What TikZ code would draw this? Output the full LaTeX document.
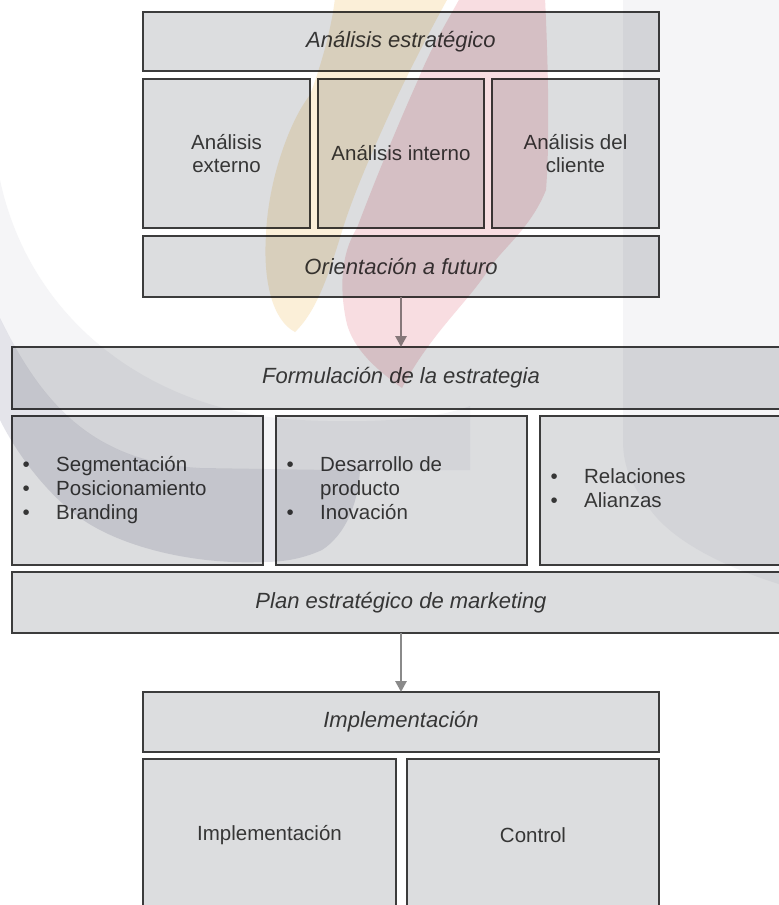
\documentclass[tikz,border=0pt]{standalone}
\usepackage{fontspec}
\setmainfont{Liberation Sans}
\usetikzlibrary{arrows.meta}

\definecolor{boxfill}{HTML}{DCDDDF}
\definecolor{boxline}{HTML}{3C3C3C}
\definecolor{ink}{HTML}{363636}
\definecolor{arrowgray}{HTML}{8A8A8A}
\definecolor{wmred}{HTML}{F8DDE1}
\definecolor{wmyellow}{HTML}{FBEFD8}
\definecolor{wmgray}{HTML}{E4E4EA}
\definecolor{wmgraysoft}{HTML}{F5F5F7}

\begin{document}
\begin{tikzpicture}[x=1pt,y=-1pt,
  panel/.style={draw=boxline, line width=1.5pt, fill=boxfill, inner sep=0pt, outer sep=0pt},
  title/.style={font=\fontsize{22}{26}\selectfont\itshape, text=ink},
  body/.style={font=\fontsize{20.5}{23.5}\selectfont, text=ink, align=center},
  listtext/.style={font=\fontsize{20.5}{24}\selectfont, text=ink, inner sep=0pt, anchor=west},
  flow/.style={draw=arrowgray, line width=2.8pt, -{Triangle[length=11pt,width=11pt]}}
]
\useasboundingbox (0,0) rectangle (779,905);
\clip (0,0) rectangle (779,905);
\fill[white] (0,0) rectangle (779,905);

% --- strategic analysis block ---
\node[panel, minimum width=516pt, minimum height=59pt, title] (strat) at (401,41.5) {Análisis estratégico};
\node[panel, minimum width=167pt, minimum height=149pt, body] (ext) at (226.5,153.5) {Análisis\\externo};
\node[panel, minimum width=166pt, minimum height=149pt, body] (int) at (401,153.5) {Análisis interno};
\node[panel, minimum width=167pt, minimum height=149pt, body] (cli) at (575.5,153.5) {Análisis del\\cliente};
\node[panel, minimum width=516pt, minimum height=61pt, title] (fut) at (401,266.5) {Orientación a futuro};

% --- strategy formulation block ---
\node[panel, minimum width=778pt, minimum height=62pt, title] (form) at (401,378) {Formulación de la estrategia};
\node[panel, minimum width=251pt, minimum height=149pt] (seg) at (137.5,490.5) {};
\node[panel, minimum width=251pt, minimum height=149pt] (des) at (401.5,490.5) {};
\node[panel, minimum width=250pt, minimum height=149pt] (rel) at (665,490.5) {};
\node[panel, minimum width=778pt, minimum height=61pt, title] (plan) at (401,602.5) {Plan estratégico de marketing};

\node[listtext] (segl) at ([xshift=10.4pt]seg.west)
  {\begin{tabular}{@{}p{33.6pt}@{}l@{}}\textbullet & Segmentación\\ \textbullet & Posicionamiento\\ \textbullet & Branding\end{tabular}};
\node[listtext] (desl) at ([xshift=10.4pt]des.west)
  {\begin{tabular}{@{}p{33.6pt}@{}l@{}}\textbullet & Desarrollo de\\ & producto\\ \textbullet & Inovación\end{tabular}};
\node[listtext] (rell) at ([xshift=10.4pt]rel.west)
  {\begin{tabular}{@{}p{33.6pt}@{}l@{}}\textbullet & Relaciones\\ \textbullet & Alianzas\end{tabular}};

% --- implementation block ---
\node[panel, minimum width=516pt, minimum height=60pt, title] (impl) at (401,722) {Implementación};
\node[panel, minimum width=253pt, minimum height=152pt, body] (exe) at (269.5,835) {Implementación};
\node[panel, minimum width=252pt, minimum height=152pt, body] (ctrl) at (533,835) {Control};

% --- connectors ---
\draw[flow] (fut.south) -- (form.north);
\draw[flow] (plan.south) -- (impl.north);

% --- faint emblem printed behind the page ---
\begin{scope}[blend mode=multiply]
  % soft grey wash on the right
  \fill[wmgraysoft] (623,-2) -- (782,-2) -- (782,585)
    .. controls (740,572) and (680,548) .. (652,512)
    .. controls (632,486) and (623,468) .. (623,440) -- cycle;
  % soft grey wash on the left, above the crescent
  \fill[wmgraysoft] (0,180) .. controls (30,320) and (150,412) .. (300,420)
    .. controls (380,424) and (440,418) .. (470,406)
    -- (470,470) -- (330,470) -- (200,468)
    .. controls (90,462) and (40,400) .. (0,318) -- cycle;
  % grey crescent
  \fill[wmgray] (0,318) .. controls (40,400) and (90,462) .. (200,468)
    -- (330,470) .. controls (345,470) and (355,470) .. (360,470)
    .. controls (358,505) and (345,535) .. (322,550)
    .. controls (300,560) and (280,562) .. (262,562)
    .. controls (190,565) and (110,545) .. (70,510)
    .. controls (40,485) and (15,450) .. (0,420) -- cycle;
  % yellow flame
  \fill[wmyellow] (335,-2) -- (448,-2)
    .. controls (425,40) and (410,70) .. (398,95)
    .. controls (375,145) and (355,190) .. (343,228)
    .. controls (330,270) and (318,310) .. (295,332)
    .. controls (272,320) and (263,280) .. (266,235)
    .. controls (268,180) and (290,120) .. (310,95)
    .. controls (323,60) and (332,25) .. (335,-2) -- cycle;
  % red flame
  \fill[wmred] (460,-2) -- (545,-2)
    .. controls (548,60) and (550,140) .. (546,190)
    .. controls (530,230) and (500,250) .. (487,272)
    .. controls (465,305) and (430,335) .. (402,388)
    .. controls (380,372) and (352,350) .. (346,320)
    .. controls (340,290) and (340,255) .. (357,228)
    .. controls (375,180) and (400,120) .. (418,80)
    .. controls (430,50) and (445,25) .. (460,-2) -- cycle;
\end{scope}
\end{tikzpicture}
\end{document}
